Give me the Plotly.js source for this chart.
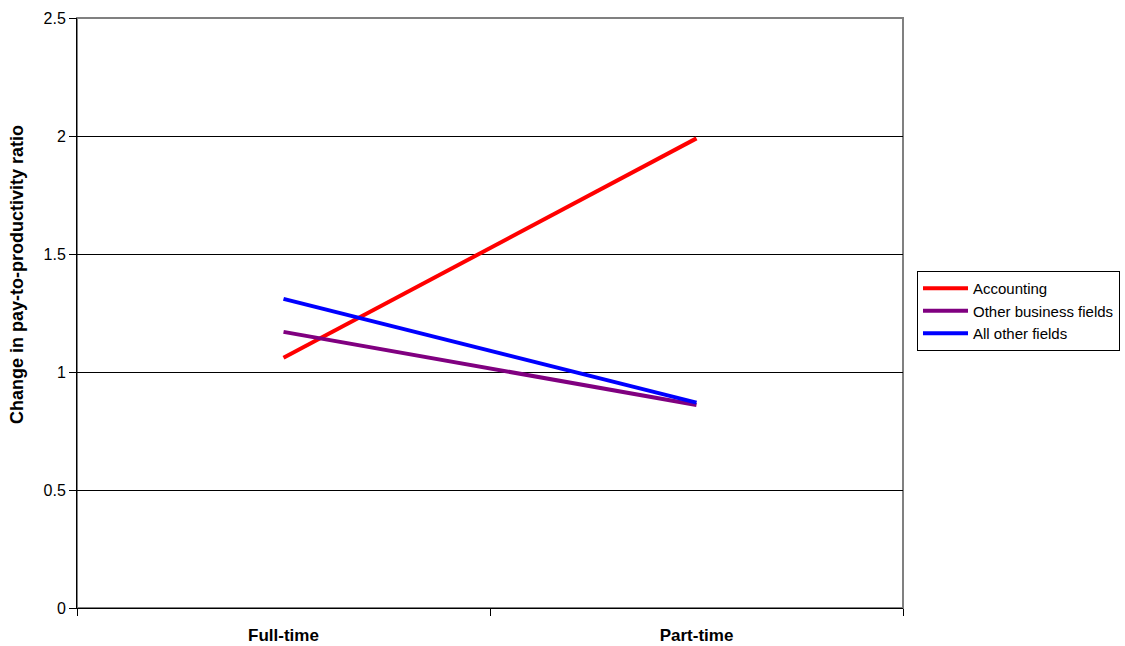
<!DOCTYPE html>
<html>
<head>
<meta charset="utf-8">
<script src="https://cdn.plot.ly/plotly-3.0.1.min.js"></script>
<style>html,body{margin:0;padding:0;background:#fff;}#chart{width:1125px;height:646px;}</style>
</head>
<body>
<div id="chart"></div>
<script>
const categories = ["Full-time", "Part-time"];
const seriesNames = ["Accounting", "Other business fields", "All other fields"];
const accounting = [1.06, 1.99];
const otherBusiness = [1.17, 0.86];
const allOther = [1.31, 0.87];
const yTicks = [0, 0.5, 1, 1.5, 2, 2.5];
const yTickLabels = ["0", "0.5", "1", "1.5", "2", "2.5"];
const yTitle = "Change in pay-to-productivity ratio";

const colors = ["#ff0000", "#800080", "#0000ff"];
const values = [accounting, otherBusiness, allOther];

const traces = values.map((v, i) => ({
  type: "scatter",
  mode: "lines",
  x: categories,
  y: v,
  name: seriesNames[i],
  line: {color: colors[i], width: 4}
}));

const layout = {
  width: 1125,
  height: 646,
  margin: {l: 77, r: 222, t: 18, b: 38, autoexpand: false},
  paper_bgcolor: "#fff",
  plot_bgcolor: "#fff",
  font: {family: "Liberation Sans, Arial, sans-serif", size: 15, color: "#000"},
  showlegend: true,
  legend: {
    xref: "container", yref: "container",
    x: 917 / 1125, xanchor: "left",
    y: 1 - 271 / 646, yanchor: "top",
    bordercolor: "#000", borderwidth: 1,
    font: {size: 15, color: "#000"},
    tracegroupgap: 0,
    itemwidth: 45
  },
  xaxis: {
    type: "category",
    range: [-0.5, 1.5],
    tickson: "boundaries",
    ticks: "outside",
    ticklen: 7,
    tickcolor: "#000",
    showline: true,
    linecolor: "#000",
    linewidth: 1,
    showgrid: false,
    automargin: false,
    tickfont: {size: 17, color: "#000", family: "Liberation Sans, Arial, sans-serif", weight: "bold"},
    ticklabelstandoff: 12
  },
  yaxis: {
    range: [0, 2.5],
    tickvals: yTicks,
    ticktext: yTickLabels,
    ticks: "outside",
    ticklen: 7,
    tickcolor: "#000",
    showline: true,
    linecolor: "#000",
    linewidth: 1,
    showgrid: true,
    gridcolor: "#000",
    gridwidth: 1,
    zeroline: false,
    automargin: false,
    tickfont: {size: 16, color: "#000"}
  },
  annotations: [{
    text: "<b>" + yTitle + "</b>",
    xref: "paper", yref: "paper",
    x: -60 / 826, y: (608 - 275) / 590,
    xanchor: "center", yanchor: "middle",
    textangle: -90,
    showarrow: false,
    font: {size: 18, color: "#000"}
  }],
  shapes: [{
    type: "rect", xref: "paper", yref: "paper",
    x0: 0, x1: 1, y0: 0, y1: 1,
    line: {color: "#808080", width: 2},
    layer: "below"
  }]
};

Plotly.newPlot("chart", traces, layout, {displayModeBar: false, staticPlot: true});
</script>
</body>
</html>
